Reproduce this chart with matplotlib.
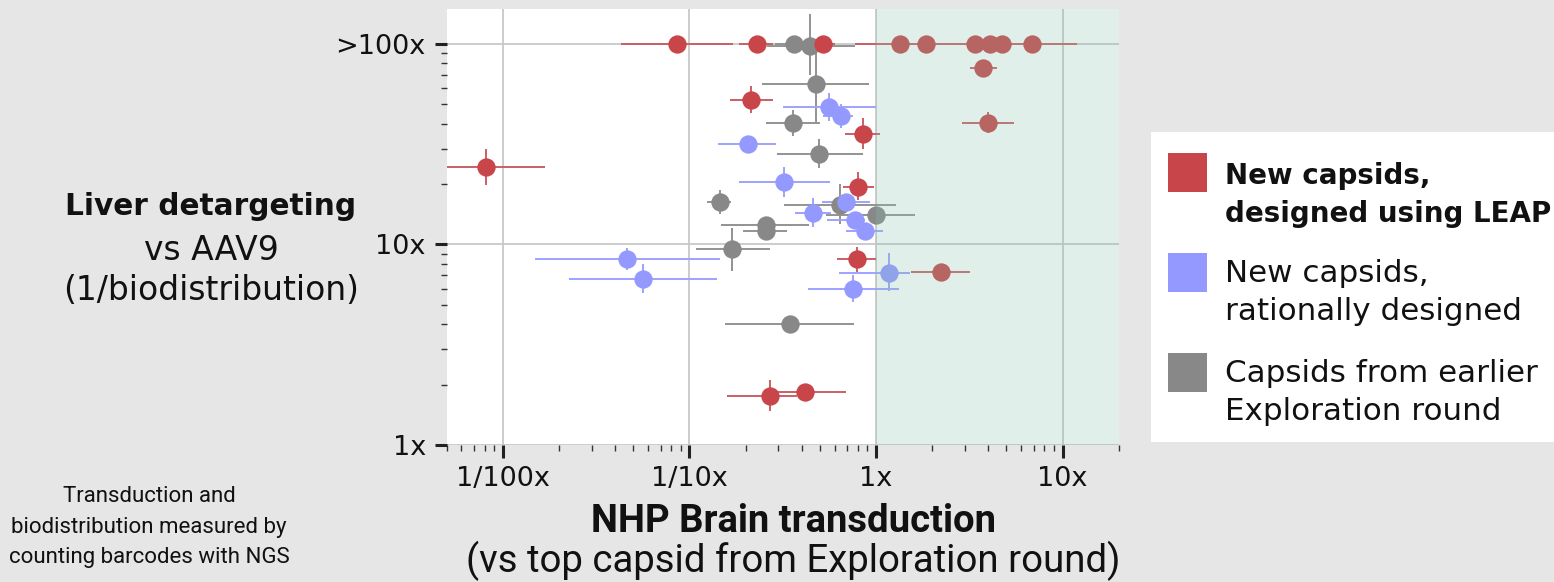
import matplotlib
matplotlib.use("Agg")
import matplotlib.pyplot as plt
from matplotlib.patches import Rectangle
from matplotlib.ticker import LogLocator, NullFormatter
import numpy as np

plt.rcParams['font.family'] = ['DejaVu Sans']

# ---- data (transduction x, liver detargeting y, with error ranges) ----
# new capsids designed with LEAP
leap_x    = [0.0858, 0.231, 0.519, 1.35, 1.86, 3.38, 4.11, 4.71, 6.90,
             3.75, 3.97, 0.213, 0.852, 0.00817, 0.804, 0.791, 2.24, 0.269, 0.416]
leap_xlo  = [0.0430, 0.185, 0.444, 0.774, 1.19, 2.50, 3.21, 3.86, 4.11,
             3.21, 2.90, 0.164, 0.684, 0.0040, 0.665, 0.618, 1.54, 0.159, 0.294]
leap_xhi  = [0.171, 0.281, 0.605, 2.36, 2.84, 4.65, 5.26, 5.95, 12.0,
             4.46, 5.48, 0.280, 1.05, 0.0169, 0.971, 1.00, 3.21, 0.377, 0.690]
leap_y    = [100, 100, 100, 100, 100, 100, 100, 100, 100,
             76.0, 40.3, 52.5, 35.5, 24.4, 19.3, 8.43, 7.26, 1.76, 1.84]
leap_ylo  = [100, 100, 100, 100, 100, 100, 100, 100, 100,
             76.0, 35.9, 45.0, 29.8, 19.8, 16.6, 7.31, 7.26, 1.48, 1.84]
leap_yhi  = [100, 100, 100, 100, 100, 100, 100, 100, 100,
             76.0, 45.7, 61.6, 42.5, 29.8, 23.0, 9.74, 7.26, 2.10, 1.84]

# new capsids, rationally designed
rat_x   = [0.562, 0.651, 0.205, 0.323, 0.459, 0.690, 0.774, 0.876, 0.0464, 0.0564, 1.18, 0.752]
rat_xlo = [0.319, 0.521, 0.142, 0.185, 0.366, 0.513, 0.546, 0.693, 0.0148, 0.0226, 0.635, 0.430]
rat_xhi = [1.00, 0.755, 0.292, 0.564, 0.575, 0.932, 0.876, 1.09, 0.145, 0.140, 1.53, 1.33]
rat_y   = [48.2, 43.6, 31.8, 20.5, 14.4, 16.3, 13.2, 11.7, 8.43, 6.70, 7.24, 6.02]
rat_ylo = [41.0, 38.0, 31.8, 17.3, 12.25, 16.3, 13.2, 11.7, 7.43, 5.71, 5.86, 5.18]
rat_yhi = [56.6, 50.0, 31.8, 24.4, 17.0, 16.3, 13.2, 11.7, 9.56, 7.96, 9.03, 7.04]

# capsids from the earlier exploration round
exp_x   = [0.364, 0.444, 0.477, 0.361, 0.498, 0.145, 0.638, 1.00, 0.256, 0.256, 0.170, 0.347]
exp_xlo = [0.288, 0.261, 0.245, 0.258, 0.294, 0.124, 0.323, 0.541, 0.148, 0.193, 0.108, 0.155]
exp_xhi = [0.472, 0.774, 0.913, 0.502, 0.852, 0.167, 1.285, 1.625, 0.435, 0.335, 0.269, 0.765]
exp_y   = [100, 98.0, 63.0, 40.4, 28.1, 16.2, 15.7, 14.0, 12.5, 11.6, 9.45, 4.01]
exp_ylo = [100, 69.9, 40.4, 34.7, 23.9, 14.2, 12.7, 14.0, 12.5, 11.6, 7.37, 3.70]
exp_yhi = [100, 140.0, 98.6, 46.8, 33.5, 18.7, 20.0, 14.0, 12.5, 11.6, 12.1, 4.40]

x_ticks = [0.01, 0.1, 1, 10]
x_ticklabels = ['1/100x', '1/10x', '1x', '10x']
y_ticks = [1, 10, 100]
y_ticklabels = ['1x', '10x', '>100x']

legend_labels = [['New capsids,', 'designed using LEAP'],
                 ['New capsids,', 'rationally designed'],
                 ['Capsids from earlier', 'Exploration round']]

RED = '#c8464a'
BLUE = '#9499ff'
GRAY = '#888888'
BG = '#e6e6e6'
TXT = '#111111'
NARROW = ['Roboto', 'DejaVu Sans']

W, H = 1554, 582
fig = plt.figure(figsize=(W / 100, H / 100), dpi=100, facecolor=BG)
ax = fig.add_axes([446.7 / W, 1 - 445 / H, (1118.7 - 446.7) / W, (445 - 9) / H])
ax.set_facecolor('white')


def draw(xs, xlo, xhi, ys, ylo, yhi, col, ecol):
	xs = np.array(xs); ys = np.array(ys)
	xerr = [xs - np.array(xlo), np.array(xhi) - xs]
	yerr = [ys - np.array(ylo), np.array(yhi) - ys]
	ax.errorbar(xs, ys, xerr=xerr, yerr=yerr, fmt='o', ms=13.2, mfc=col, mec='none',
				ecolor=ecol, elinewidth=1.4, capsize=0, zorder=3)


draw(exp_x, exp_xlo, exp_xhi, exp_y, exp_ylo, exp_yhi, GRAY, '#939393')
draw(rat_x, rat_xlo, rat_xhi, rat_y, rat_ylo, rat_yhi, BLUE, '#9ea2ff')
draw(leap_x, leap_xlo, leap_xhi, leap_y, leap_ylo, leap_yhi, RED, '#c96066')

# region beating the best exploration capsid
ax.axvspan(1, 20, color='#87c3ab', alpha=0.25, lw=0, zorder=5)

ax.set_xscale('log')
ax.set_yscale('log')
ax.set_xlim(0.005, 20)
ax.set_ylim(1, 149)
ax.grid(True, which='major', color='#c8c8c8', lw=1.3, zorder=0)
ax.set_axisbelow(True)
for s in ax.spines.values():
	s.set_visible(False)

ax.set_xticks(x_ticks)
ax.set_xticklabels(x_ticklabels)
ax.set_yticks(y_ticks)
ax.set_yticklabels(y_ticklabels)
ax.xaxis.set_minor_locator(LogLocator(base=10, subs=np.arange(2, 10), numticks=20))
ax.yaxis.set_minor_locator(LogLocator(base=10, subs=np.arange(2, 10), numticks=20))
ax.xaxis.set_minor_formatter(NullFormatter())
ax.yaxis.set_minor_formatter(NullFormatter())
ax.tick_params(which='major', length=9, width=2.2, color='#222222', pad=6)
ax.tick_params(which='minor', length=4.5, width=1, color='#333333')
for lab in ax.get_xticklabels() + ax.get_yticklabels():
	lab.set_fontsize(19.5)
	lab.set_color(TXT)

# y label block
fig.text(211 / W, 1 - 206 / H, 'Liver detargeting', ha='center', va='center',
		 fontsize=21.3, fontweight='bold', color=TXT)
fig.text(211 / W, 1 - 251 / H, 'vs AAV9', ha='center', va='center', fontsize=23.8, color=TXT)
fig.text(211 / W, 1 - 291 / H, '(1/biodistribution)', ha='center', va='center',
		 fontsize=23.8, color=TXT)

# x label block
fig.text(793 / W, 1 - 522 / H, 'NHP Brain transduction', ha='center', va='center',
		 fontsize=27.5, fontweight='bold', family=NARROW, color=TXT)
fig.text(793 / W, 1 - 561 / H, '(vs top capsid from Exploration round)', ha='center',
		 va='center', fontsize=27.6, family=NARROW, color=TXT)

# method note
for i, line in enumerate(['Transduction and', 'biodistribution measured by',
						  'counting barcodes with NGS']):
	fig.text(149 / W, 1 - (497 + 30.5 * i) / H, line, ha='center', va='center',
			 fontsize=16, family=NARROW, color=TXT)

# legend box, drawn by hand so it can run off the right edge
fig.add_artist(Rectangle((1151 / W, 1 - 441.7 / H), (W - 1151) / W, (441.7 - 131.7) / H,
						 transform=fig.transFigure, facecolor='white', edgecolor='none'))
for i, (col, lines) in enumerate(zip([RED, BLUE, GRAY], legend_labels)):
	yc = 172.5 + 100 * i
	fig.add_artist(Rectangle((1168.3 / W, 1 - (yc + 19.2) / H), 38.4 / W, 38.4 / H,
							 transform=fig.transFigure, facecolor=col, edgecolor='none'))
	for j, line in enumerate(lines):
		if i == 0:
			fig.text(1225 / W, 1 - (yc + 3 + 38 * j) / H, line, ha='left', va='center',
					 fontsize=20, fontweight='bold', color=TXT)
		else:
			fig.text(1225 / W, 1 - (yc + 1 + 38.5 * j) / H, line, ha='left', va='center',
					 fontsize=22.3, color=TXT)

fig.savefig('out.png', dpi=100, facecolor=BG)
